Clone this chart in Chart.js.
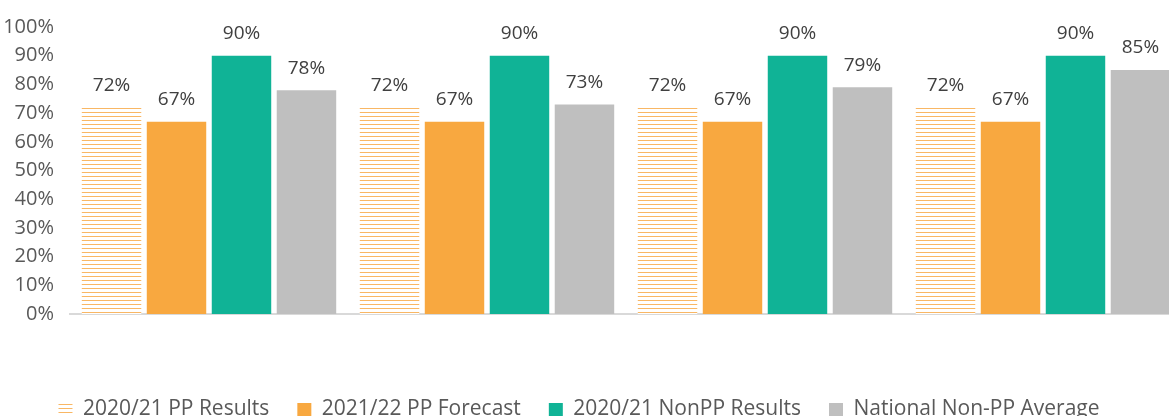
<!DOCTYPE html>
<html lang="en">
<head>
  <meta charset="UTF-8">
  <title>PP Results vs NonPP</title>
  <script src="https://cdn.jsdelivr.net/npm/chart.js"></script>
  <style>
    html, body { margin: 0; padding: 0; background: #fff; overflow: hidden; }
    /* slightly wider than the window: the last bar sits on the right edge */
    #wrap { width: 1184px; height: 416px; }
  </style>
</head>
<body>
  <div id="wrap"><canvas id="chart"></canvas></div>

  <script>
    const categories = ['Group 1', 'Group 2', 'Group 3', 'Group 4'];
    const seriesNames = ['2020/21 PP Results', '2021/22 PP Forecast', '2020/21 NonPP Results', 'National Non-PP Average'];
    const ppResults = [72, 72, 72, 72];
    const ppForecast = [67, 67, 67, 67];
    const nonPpResults = [90, 90, 90, 90];
    const nationalAverage = [78, 73, 79, 85];
    const yTicks = [0, 10, 20, 30, 40, 50, 60, 70, 80, 90, 100];

    Chart.defaults.font.family = '"Open Sans", sans-serif';
    Chart.defaults.color = '#595959';

    // horizontal orange stripes on white for the first series
    const pc = document.createElement('canvas');
    pc.width = 8;
    pc.height = 4;
    const pctx = pc.getContext('2d');
    pctx.fillStyle = '#fff';
    pctx.fillRect(0, 0, 8, 4);
    pctx.fillStyle = '#F9B764';
    pctx.fillRect(0, 0, 8, 1);
    const stripes = pctx.createPattern(pc, 'repeat');

    // value labels above each bar
    const valueLabels = {
      id: 'valueLabels',
      afterDatasetsDraw(chart) {
        const ctx = chart.ctx;
        ctx.save();
        ctx.font = '19px "Open Sans"';
        ctx.fillStyle = '#404040';
        ctx.textAlign = 'center';
        ctx.textBaseline = 'middle';
        chart.data.datasets.forEach((ds, i) => {
          chart.getDatasetMeta(i).data.forEach((bar, j) => {
            ctx.fillText(ds.data[j] + '%', bar.x, bar.y - 22);
          });
        });
        ctx.restore();
      }
    };

    // legend sits on the bottom edge and a bit left of the (wider) canvas centre
    const legendNudge = {
      id: 'legendNudge',
      afterLayout(chart) {
        chart.legend.top += 14;
        chart.legend.bottom += 14;
        chart.legend.left -= 12;
        chart.legend.right -= 12;
      }
    };

    new Chart(document.getElementById('chart'), {
      type: 'bar',
      data: {
        labels: categories,
        datasets: [
          { label: seriesNames[0], data: ppResults, backgroundColor: stripes },
          { label: seriesNames[1], data: ppForecast, backgroundColor: '#F8A840' },
          { label: seriesNames[2], data: nonPpResults, backgroundColor: '#10B396' },
          { label: seriesNames[3], data: nationalAverage, backgroundColor: '#BFBFBF' }
        ]
      },
      options: {
        responsive: true,
        maintainAspectRatio: false,
        animation: false,
        datasets: {
          bar: { barPercentage: 0.915, categoryPercentage: 0.935, borderWidth: 0 }
        },
        layout: { padding: { top: 27, right: 2, bottom: 0, left: 0 } },
        plugins: {
          tooltip: { enabled: false },
          legend: {
            position: 'bottom',
            labels: {
              color: '#595959',
              font: { size: 21 },
              boxWidth: 14,
              boxHeight: 13,
              padding: 28
            }
          }
        },
        scales: {
          x: {
            grid: { display: false },
            border: { color: '#D9D9D9', width: 2 },
            ticks: { display: false },
            afterFit(scale) { scale.height = 43; }
          },
          y: {
            min: 0,
            max: 100,
            grid: { display: false },
            border: { display: false },
            afterBuildTicks(scale) { scale.ticks = yTicks.map(v => ({ value: v })); },
            ticks: {
              color: '#595959',
              font: { size: 20 },
              padding: 8,
              callback: v => v + '%'
            },
            afterFit(scale) { scale.width = 70; }
          }
        }
      },
      plugins: [valueLabels, legendNudge]
    });
  </script>
</body>
</html>
